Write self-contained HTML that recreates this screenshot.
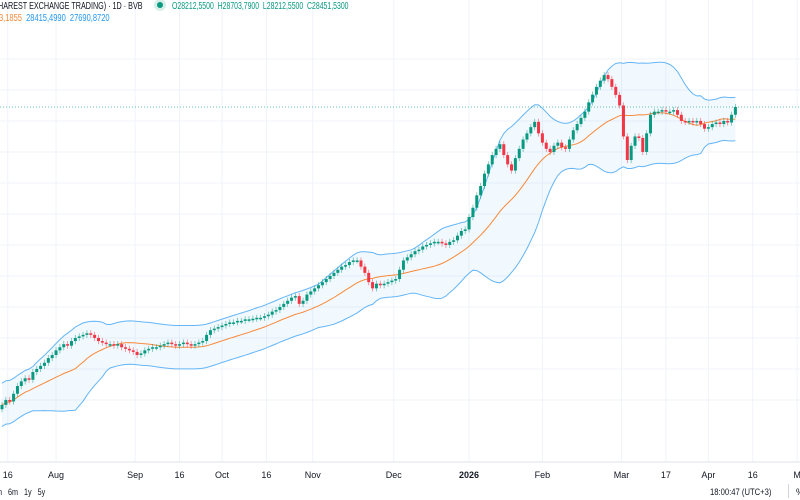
<!DOCTYPE html>
<html><head><meta charset="utf-8"><style>
body{margin:0;width:800px;height:500px;overflow:hidden;background:#fff;font-family:"Liberation Sans",sans-serif}
svg{position:absolute;left:0;top:0}
.hdr{position:absolute;font-size:10px;white-space:nowrap;transform-origin:0 0}
</style></head><body>
<svg id="c" width="800" height="500"></svg>
<div class="hdr" style="left:-2px;top:1px;color:#131722;transform:scaleX(0.72)">HAREST EXCHANGE TRADING) · 1D · BVB</div>
<div style="position:absolute;left:157px;top:2px;width:6px;height:6px;border-radius:50%;background:#089981;box-shadow:0 0 0 3px #d7efe9"></div>
<div class="hdr" style="left:172px;top:1px;color:#089981;transform:scaleX(0.69)">O28212,5500&nbsp; H28703,7900&nbsp; L28212,5500&nbsp; C28451,5300</div>
<div class="hdr" style="left:-1px;top:13px;font-size:10px;transform:scaleX(0.75)"><span style="color:#f7893b">3,1855</span>&nbsp; <span style="color:#2196f3">28415,4990&nbsp; 27690,8720</span></div>
<div class="hdr" style="left:-2px;top:487px;font-size:9px;color:#131722;transform:scaleX(0.8)">n&nbsp;&nbsp; 6m&nbsp;&nbsp; 1y&nbsp;&nbsp; 5y</div>
<div class="hdr" style="left:710px;top:487px;font-size:9px;color:#131722;transform:scaleX(0.85)">18:00:47 (UTC+3)</div>
<div style="position:absolute;left:788px;top:484px;width:1px;height:14px;background:#d1d4dc"></div>
<div class="hdr" style="left:796px;top:487px;font-size:9px;color:#131722">%</div>
<script>
const closes=[18.84,19.0,18.95,19.2,19.45,19.6,
19.7,19.65,19.9,20.0,20.1,20.2,20.35,20.45,
20.6,20.7,20.8,20.75,20.9,21.0,21.05,21.1,21.15,21.1,
21.0,20.9,20.85,20.8,20.8,20.75,20.8,20.7,20.65,20.6,20.55,20.45,20.5,20.6,
20.65,20.7,20.7,20.75,20.8,20.85,20.8,20.75,20.8,20.85,20.8,20.75,20.8,20.85,20.9,
21.1,21.25,21.3,21.35,21.4,21.45,21.5,21.5,
21.55,21.55,21.6,21.6,21.62,21.65,21.65,
21.7,21.75,21.85,21.9,22.0,22.1,22.2,
22.3,22.35,22.1,22.2,22.4,22.5,
22.6,22.7,22.8,22.9,23.0,23.1,
23.2,23.3,23.35,23.45,23.5,23.5,
23.3,23.1,22.8,22.6,22.75,22.7,
22.75,22.8,22.85,22.9,23.2,
23.5,23.6,23.7,23.8,23.85,23.95,24.0,
24.05,24.1,24.1,24.05,24.0,24.1,24.15,
24.3,24.45,24.5,24.9,25.2,
25.6,25.9,26.3,26.6,26.9,
27.1,27.25,26.9,26.6,
26.4,26.8,27.1,27.4,27.6,
27.8,27.97,27.6,27.3,27.1,
27.0,27.2,27.3,27.15,27.1,
27.4,27.7,27.9,28.1,28.3,
28.6,28.85,29.1,29.3,29.48,
29.35,29.1,28.84,28.5,
27.5,26.74,27.2,27.5,
27.45,27.0,27.6,28.2,
28.3,28.3,28.35,28.3,28.3,28.35,28.2,28.0,
27.97,28.0,27.95,28.0,27.9,27.75,27.8,
27.9,27.95,27.9,28.0,27.95,
28.2,28.45];
const firstOpen=18.7;
const timeLabels=["16","Aug","Sep","16","Oct","16","Nov","Dec","2026","Feb","Mar","17","Apr","16","M"];
const timeLabelIdx=[1.5,14,34.5,46,57,68.5,80.5,101.5,121,140,160.5,172,183,194.5,206];
const lastPrice=28.45;

const svg=document.getElementById('c');const NS='http://www.w3.org/2000/svg';
const X=i=>2+i*3.86;
const Y=p=>107-(p-28.45)*31;
function mk(t,a,parent){const e=document.createElementNS(NS,t);for(const k in a)e.setAttribute(k,a[k]);(parent||svg).appendChild(e);return e;}
for(let g=0;g<12;g++){const p=30-g;const y=Y(p);if(y<28||y>460)continue;
const l=mk('line',{x1:0,x2:800,y1:y,y2:y,stroke:'#f0f3fa'});
}
timeLabels.forEach((t,k)=>{const x=X(timeLabelIdx[k]);
const l=mk('line',{x1:x,x2:x,y1:0,y2:462,stroke:'#f0f3fa'});

const tx=mk('text',{x:x,y:478,'font-size':9,'text-anchor':'middle',fill:'#131722','font-weight':t==='2026'?'bold':'normal','font-family':'Liberation Sans, sans-serif'});tx.textContent=t;
});
const ax=mk('line',{x1:0,x2:800,y1:462,y2:462,stroke:'#e0e3eb'});

const N=20;const mid=[],up=[],lo=[];
closes.forEach((c,i)=>{const s=closes.slice(Math.max(0,i-N+1),i+1);const m=s.reduce((a,b)=>a+b,0)/s.length;
let sd=Math.sqrt(s.reduce((a,b)=>a+(b-m)*(b-m),0)/s.length);sd=Math.max(sd,0.35);
mid.push(m);up.push(m+2*sd);lo.push(m-2*sd);});
const pts=a=>a.map((v,i)=>X(i).toFixed(1)+','+Y(v).toFixed(1));
const fill=mk('polygon',{points:pts(up).concat(pts(lo).reverse()).join(' '),fill:'rgba(33,150,243,0.06)'});

const ub=mk('polyline',{points:pts(up).join(' '),fill:'none',stroke:'#64b5f6','stroke-width':1});

const lb=mk('polyline',{points:pts(lo).join(' '),fill:'none',stroke:'#64b5f6','stroke-width':1});

const mb=mk('polyline',{points:pts(mid).join(' '),fill:'none',stroke:'#f7893b','stroke-width':1});

const lp=mk('line',{x1:0,x2:800,y1:Y(lastPrice),y2:Y(lastPrice),stroke:'#089981','stroke-dasharray':'1 2','stroke-opacity':0.6});

closes.forEach((c,i)=>{const o=i?closes[i-1]:firstOpen;const hi=Math.max(o,c)+0.1,lw=Math.min(o,c)-0.1;
const col=c>=o?'#089981':'#f23645';const x=X(i);
const g=mk('g',{});
mk('line',{x1:x,x2:x,y1:Y(hi),y2:Y(lw),stroke:col,'stroke-width':0.8,'stroke-opacity':0.6},g);
const t=Y(Math.max(o,c)),b=Y(Math.min(o,c));
mk('rect',{x:x-1.5,y:t,width:3,height:Math.max(1.5,b-t),fill:col},g);});
</script>
</body></html>
